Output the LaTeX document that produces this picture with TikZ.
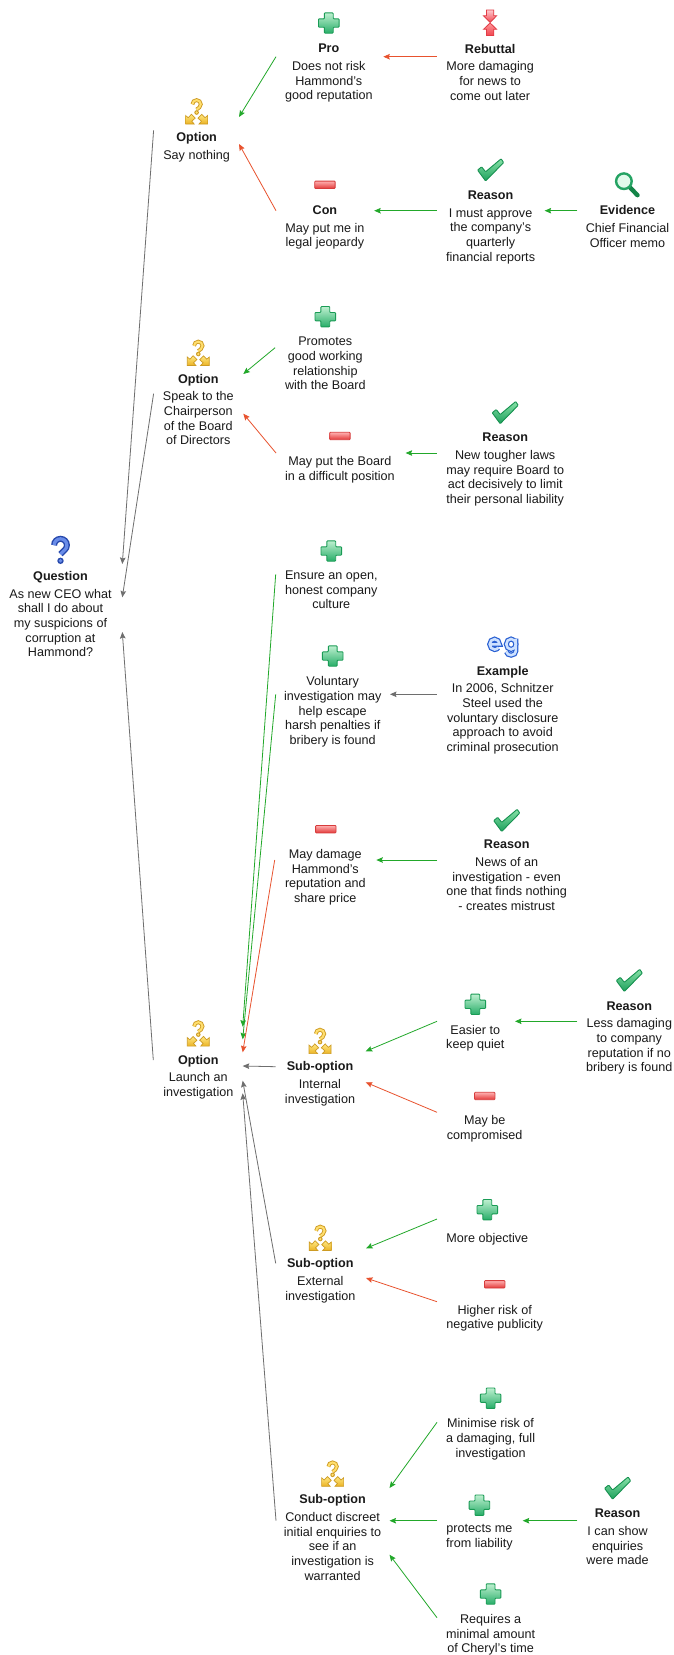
\documentclass[tikz,border=0pt]{standalone}
\usepackage{fontspec}
\setmainfont{Liberation Sans}
\usetikzlibrary{arrows.meta,fit}
\definecolor{linkgreen}{HTML}{22A82A}
\definecolor{linkred}{HTML}{E8522E}
\definecolor{linkgray}{HTML}{6E6E6E}
\definecolor{txtcol}{HTML}{1A1A1A}
\definecolor{pluse}{HTML}{1A9B55}
\definecolor{plust}{HTML}{BEF0D0}
\definecolor{plusb}{HTML}{27AD68}
\definecolor{mine}{HTML}{D63C3C}
\definecolor{mint}{HTML}{FFB0B0}
\definecolor{minb}{HTML}{E23838}
\definecolor{chke}{HTML}{169150}
\definecolor{chkt}{HTML}{87E2A8}
\definecolor{chkb}{HTML}{1EA05C}
\definecolor{rebe}{HTML}{E23C46}
\definecolor{rebt}{HTML}{FFC8CD}
\definecolor{rebm}{HTML}{FF9699}
\definecolor{rebb}{HTML}{F04650}
\definecolor{opte}{HTML}{CD9B23}
\definecolor{optt}{HTML}{FFE882}
\definecolor{optb}{HTML}{EBB223}
\definecolor{optq}{HTML}{FFDE6E}
\definecolor{qe}{HTML}{2648AC}
\definecolor{qi}{HTML}{698CE8}
\definecolor{mage}{HTML}{148448}
\definecolor{magr}{HTML}{24A363}
\definecolor{magf}{HTML}{E1FAEB}
\definecolor{ege}{HTML}{285FD2}
\definecolor{egi}{HTML}{CDE1FF}
\tikzset{
  x=1pt,y=1pt,
  txt/.style={anchor=north,align=center,inner sep=0pt,outer sep=0pt,yshift=4.2pt,text=txtcol,
    font=\fontsize{12.6}{14.67}\selectfont,execute at begin node=\strut},
  cardbox/.style={inner sep=0pt,outer sep=0pt},
  link/.style={line width=.8pt,-{Stealth[length=6.5pt,width=5.5pt,inset=1pt]}},
  green link/.style={link,draw=linkgreen},
  red link/.style={link,draw=linkred},
  gray link/.style={link,draw=linkgray},
  plusicon/.pic={
    \path[draw=pluse,line width=.9pt,rounded corners=.8pt,top color=plust,bottom color=plusb]
      (-4.4,10.2)--(4.4,10.2)--(4.4,4.2)--(10.3,4.2)--(10.3,-4.2)--(4.4,-4.2)--(4.4,-10.2)--(-4.4,-10.2)
      --(-4.4,-4.2)--(-10.3,-4.2)--(-10.3,4.2)--(-4.4,4.2)--cycle;
  },
  minusicon/.pic={
    \path[draw=mine,line width=.8pt,rounded corners=.8pt,top color=mint,bottom color=minb]
      (-10.2,-3.7) rectangle (10.2,3.7);
  },
  checkicon/.pic={
    \path[draw=chke,line width=.9pt,rounded corners=.7pt,top color=chkt,bottom color=chkb]
      (10.5,11)--(13,7.2)--(-5,-11.2)--(-13,-.3)--(-9,3)--(-5,-2)--cycle;
  },
  rebuticon/.pic={
    \path[draw=rebe,line width=.8pt,top color=rebt,bottom color=rebb]
      (-3.7,12.7)--(3.7,12.7)--(3.7,7)--(6.6,7)--(0,.3)--(-6.6,7)--(-3.7,7)--cycle;
    \path[draw=rebe,line width=.8pt,top color=rebm,bottom color=rebb]
      (-3.7,-12.7)--(3.7,-12.7)--(3.7,-6.6)--(6.6,-6.6)--(0,-.3)--(-6.6,-6.6)--(-3.7,-6.6)--cycle;
  },
  optionicon/.pic={
    \path[draw=opte,line width=.7pt,top color=optt,bottom color=optb]
      (-11,-12.3)--(-11,-3.8)--(-8.4,-6)--(-5.2,-2.6)--(-1.4,-6.4)--(-4.8,-9.6)--(-2.4,-12.3)--cycle;
    \path[draw=opte,line width=.7pt,top color=optt,bottom color=optb]
      (11,-12.3)--(11,-3.8)--(8.4,-6)--(5.2,-2.6)--(1.4,-6.4)--(4.8,-9.6)--(2.4,-12.3)--cycle;
    \draw[opte,line width=3.8pt]
      (-4.2,7.4) arc (180:-50:4.2) -- (0,2.2);
    \fill[opte] (0,-.8) circle (2.3);
    \draw[optq,line width=2pt]
      (-4.2,7.4) arc (180:-50:4.2) -- (0,2.2);
    \fill[optq] (0,-.8) circle (1.3);
  },
  questionicon/.pic={
    \draw[qe,line width=6pt]
      (-6.4,5.8) arc (180:-50:6.4) -- (0,-3.2);
    \fill[qe] (0,-9.8) circle (3.2);
    \draw[qi,line width=3.2pt]
      (-6.4,5.8) arc (180:-50:6.4) -- (0,-3.2);
    \fill[qi] (0,-9.8) circle (1.9);
  },
  magnifyicon/.pic={
    \draw[mage,line width=4.4pt,line cap=round] (2.2,-2.4) -- (10,-10.4);
    \draw[magr,line width=2.4pt,fill=magf] (-3.6,3.6) circle (7.8);
  },
  egicon/.pic={
    \draw[ege,line width=5pt] (-13,1.7) -- (-3.2,1.7) arc (0:180:4.9 and 5.2) arc (180:320:4.9 and 5.2);
    \draw[ege,line width=5pt] (8.4,1.8) ellipse (4.8 and 5.2);
    \draw[ege,line width=5pt] (13.2,7.4) -- (13.2,-5) arc (0:-170:4.8 and 4.2);
    \draw[egi,line width=2.6pt] (-13,1.7) -- (-3.2,1.7) arc (0:180:4.9 and 5.2) arc (180:320:4.9 and 5.2);
    \draw[egi,line width=2.6pt] (8.4,1.8) ellipse (4.8 and 5.2);
    \draw[egi,line width=2.6pt] (13.2,7.4) -- (13.2,-5) arc (0:-170:4.8 and 4.2);
  },
}
\newcommand{\cardarea}[4]{\node[cardbox,fit={(#2,-#4-20) (#3,-#4+20)}] (#1) {};}
\begin{document}
\begin{tikzpicture}
\useasboundingbox (0,0) rectangle (673,-1655);
\fill[white] (0,0) rectangle (673,-1655);

% connector boxes: name, west, east, centre y
\cardarea{question}{20}{122.3}{597.3}
\cardarea{optA}{153.6}{239}{130.3}
\cardarea{optB}{153.6}{243.3}{393.7}
\cardarea{optC}{153.3}{242.7}{1060}
\cardarea{pro}{276}{383.3}{56.7}
\cardarea{rebuttal}{436.9}{545}{56.7}
\cardarea{con}{276}{374.2}{210.7}
\cardarea{reasonA}{436.9}{544.6}{210.7}
\cardarea{evidence}{577.3}{673}{210.7}
\cardarea{promotes}{275.1}{375}{347.7}
\cardarea{mayput}{276}{405.6}{453}
\cardarea{reasonB}{436.9}{570}{453}
\cardarea{ensure}{275.7}{385}{574.3}
\cardarea{voluntary}{275.7}{390}{694.3}
\cardarea{example}{436.7}{570}{694.3}
\cardarea{damage}{274.7}{376.3}{860}
\cardarea{reasonC}{437}{580}{860}
\cardarea{subA}{275.7}{365.7}{1066.7}
\cardarea{easier}{437}{515}{1021.3}
\cardarea{reasonD}{577.3}{673}{1021.3}
\cardarea{compromised}{437}{530}{1112.3}
\cardarea{subB}{275.7}{366}{1263.3}
\cardarea{objective}{437}{535}{1219}
\cardarea{higher}{437}{550}{1301.7}
\cardarea{subC}{276}{389.5}{1520.7}
\cardarea{minimise}{437}{545}{1422.3}
\cardarea{protects}{437}{522.7}{1520.7}
\cardarea{reasonE}{577.3}{660}{1520.7}
\cardarea{requires}{437}{545}{1617.7}

% icons
\pic at (60.5,-551) {questionicon};
\pic at (196.6,-111.7) {optionicon};
\pic at (198.3,-353.2) {optionicon};
\pic at (198.3,-1033.8) {optionicon};
\pic at (320,-1041.3) {optionicon};
\pic at (320.3,-1238.2) {optionicon};
\pic at (332.6,-1474) {optionicon};
\pic at (328.8,-23) {plusicon};
\pic at (325.3,-316.7) {plusicon};
\pic at (331.3,-551) {plusicon};
\pic at (332.7,-656) {plusicon};
\pic at (475.3,-1004.3) {plusicon};
\pic at (487.3,-1209.7) {plusicon};
\pic at (490.6,-1398.2) {plusicon};
\pic at (479.4,-1505.2) {plusicon};
\pic at (490.6,-1594) {plusicon};
\pic at (324.9,-184.8) {minusicon};
\pic at (339.9,-436) {minusicon};
\pic at (325.8,-829.2) {minusicon};
\pic at (484.7,-1096) {minusicon};
\pic at (494.7,-1284.3) {minusicon};
\pic at (490.6,-169.8) {checkicon};
\pic at (505.2,-412.5) {checkicon};
\pic at (506.7,-820.3) {checkicon};
\pic at (629.3,-980.3) {checkicon};
\pic at (617.6,-1488) {checkicon};
\pic at (490.1,-22.7) {rebuticon};
\pic at (627.5,-184.8) {magnifyicon};
\pic at (502.7,-646) {egicon};

% texts
\node[txt] (questionT) at (60.5,-575.7) {\textbf{Question}\\[3pt]As new CEO what\\shall I do about\\my suspicions of\\corruption at\\Hammond?};
\node[txt] (optAT) at (196.6,-136.7) {\textbf{Option}\\[3pt]Say nothing};
\node[txt] (proT) at (328.8,-48.3) {\textbf{Pro}\\[3pt]Does not risk\\Hammond's\\good reputation};
\node[txt] (rebuttalT) at (490.1,-48.3) {\textbf{Rebuttal}\\[3pt]More damaging\\for news to\\come out later};
\node[txt] (conT) at (324.9,-210) {\textbf{Con}\\[3pt]May put me in\\legal jeopardy};
\node[txt] (reasonAT) at (490.6,-195) {\textbf{Reason}\\[3pt]I must approve\\the company's\\quarterly\\financial reports};
\node[txt] (evidenceT) at (627.5,-210) {\textbf{Evidence}\\[3pt]Chief Financial\\Officer memo};
\node[txt] (optBT) at (198.3,-378.3) {\textbf{Option}\\[3pt]Speak to the\\Chairperson\\of the Board\\of Directors};
\node[txt] (promotesT) at (325.3,-341.3) {Promotes\\good working\\relationship\\with the Board};
\node[txt] (mayputT) at (339.9,-460.7) {May put the Board\\in a difficult position};
\node[txt] (reasonBT) at (505.2,-437.3) {\textbf{Reason}\\[3pt]New tougher laws\\may require Board to\\act decisively to limit\\their personal liability};
\node[txt] (ensureT) at (331.3,-575) {Ensure an open,\\honest company\\culture};
\node[txt] (voluntaryT) at (332.7,-681) {Voluntary\\investigation may\\help escape\\harsh penalties if\\bribery is found};
\node[txt] (exampleT) at (502.7,-670.3) {\textbf{Example}\\[3pt]In 2006, Schnitzer\\Steel used the\\voluntary disclosure\\approach to avoid\\criminal prosecution};
\node[txt] (damageT) at (325.3,-853.7) {May damage\\Hammond's\\reputation and\\share price};
\node[txt] (reasonCT) at (506.7,-844.3) {\textbf{Reason}\\[3pt]News of an\\investigation - even\\one that finds nothing\\- creates mistrust};
\node[txt] (optCT) at (198.3,-1059.3) {\textbf{Option}\\[3pt]Launch an\\investigation};
\node[txt] (subAT) at (320,-1066) {\textbf{Sub-option}\\[3pt]Internal\\investigation};
\node[txt] (easierT) at (475.3,-1029.3) {Easier to\\keep quiet};
\node[txt] (reasonDT) at (629.3,-1005.7) {\textbf{Reason}\\[3pt]Less damaging\\to company\\reputation if no\\bribery is found};
\node[txt] (compromisedT) at (484.7,-1119.7) {May be\\compromised};
\node[txt] (subBT) at (320.3,-1263) {\textbf{Sub-option}\\[3pt]External\\investigation};
\node[txt] (objectiveT) at (487.3,-1236.7) {More objective};
\node[txt] (higherT) at (494.7,-1309.3) {Higher risk of\\negative publicity};
\node[txt] (subCT) at (332.6,-1499) {\textbf{Sub-option}\\[3pt]Conduct discreet\\initial enquiries to\\see if an\\investigation is\\warranted};
\node[txt] (minimiseT) at (490.6,-1423) {Minimise risk of\\a damaging, full\\investigation};
\node[txt] (protectsT) at (479.4,-1529) {protects me\\from liability};
\node[txt] (reasonET) at (617.6,-1513.3) {\textbf{Reason}\\[3pt]I can show\\enquiries\\were made};
\node[txt] (requiresT) at (490.6,-1618.7) {Requires a\\minimal amount\\of Cheryl's time};

% connectors
\draw[red link] (rebuttal.west) -- (pro.east);
\draw[green link] (pro.west) -- ([yshift=13.3pt]optA.east);
\draw[red link] (con.west) -- ([yshift=-13.7pt]optA.east);
\draw[green link] (reasonA.west) -- (con.east);
\draw[green link] (evidence.west) -- (reasonA.east);
\draw[gray link] (optA.west) -- ([yshift=33.3pt]question.east);
\draw[gray link] (optB.west) -- (question.east);
\draw[gray link] (optC.west) -- ([yshift=-34.7pt]question.east);
\draw[green link] (promotes.west) -- ([yshift=19.7pt]optB.east);
\draw[red link] (mayput.west) -- ([yshift=-20pt]optB.east);
\draw[green link] (reasonB.west) -- (mayput.east);
\draw[green link] (ensure.west) -- ([yshift=33.3pt]optC.east);
\draw[green link] (voluntary.west) -- ([yshift=20.7pt]optC.east);
\draw[red link] (damage.west) -- ([yshift=7.7pt]optC.east);
\draw[gray link] (example.west) -- (voluntary.east);
\draw[green link] (reasonC.west) -- (damage.east);
\draw[gray link] (subA.west) -- ([yshift=-6pt]optC.east);
\draw[gray link] (subB.west) -- ([yshift=-20.7pt]optC.east);
\draw[gray link] (subC.west) -- ([yshift=-33.3pt]optC.east);
\draw[green link] (easier.west) -- ([yshift=15.4pt]subA.east);
\draw[red link] (compromised.west) -- ([yshift=-15.6pt]subA.east);
\draw[green link] (reasonD.west) -- (easier.east);
\draw[green link] (objective.west) -- ([yshift=15pt]subB.east);
\draw[red link] (higher.west) -- ([yshift=-14.7pt]subB.east);
\draw[green link] (minimise.west) -- ([yshift=32.7pt]subC.east);
\draw[green link] (protects.west) -- (subC.east);
\draw[green link] (requires.west) -- ([yshift=-34pt]subC.east);
\draw[green link] (reasonE.west) -- (protects.east);
\end{tikzpicture}
\end{document}
